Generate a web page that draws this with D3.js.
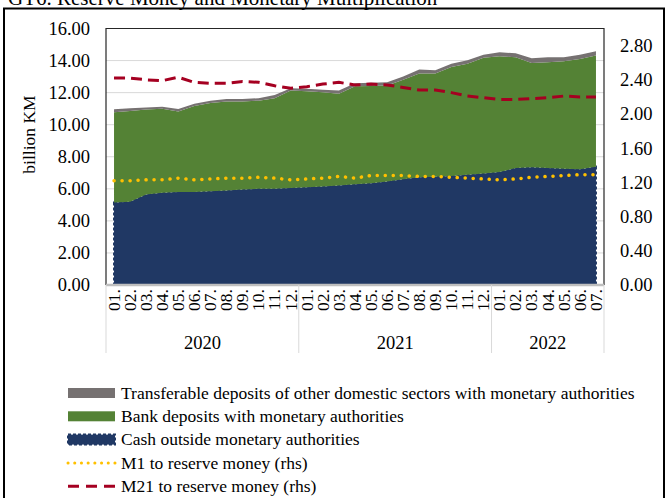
<!DOCTYPE html>
<html>
<head>
<meta charset="utf-8">
<script src="https://cdn.jsdelivr.net/npm/d3@7"></script>
<style>
  body { margin: 0; background: #fff; }
  svg { display: block; font-family: "Liberation Serif", "Times New Roman", serif; }
</style>
</head>
<body>
<svg width="669" height="498"></svg>
<script>
// Data (billion KM, rhs ratios)
var years = ["2020", "2021", "2022"];
var monthsPerYear = [12, 12, 7];
var monthLabels = ["01.","02.","03.","04.","05.","06.","07.","08.","09.","10.","11.","12.",
                   "01.","02.","03.","04.","05.","06.","07.","08.","09.","10.","11.","12.",
                   "01.","02.","03.","04.","05.","06.","07."];

var cash = [5.15, 5.20, 5.65, 5.75, 5.80, 5.80, 5.85, 5.90, 5.95, 6.00, 6.00, 6.05,
            6.10, 6.15, 6.20, 6.28, 6.35, 6.45, 6.60, 6.72, 6.75, 6.80, 6.88, 6.95,
            7.05, 7.30, 7.35, 7.30, 7.25, 7.22, 7.38];
var bankDeposits = [5.63, 5.65, 5.30, 5.25, 5.03, 5.36, 5.50, 5.55, 5.50, 5.50, 5.65, 6.08,
                    5.99, 5.88, 5.73, 6.12, 6.07, 6.00, 6.20, 6.48, 6.45, 6.80, 6.92, 7.22,
                    7.22, 6.90, 6.50, 6.60, 6.70, 6.88, 6.93];
var transferable = [0.18, 0.18, 0.12, 0.12, 0.15, 0.15, 0.15, 0.15, 0.15, 0.15, 0.20, 0.15,
                    0.15, 0.15, 0.20, 0.18, 0.20, 0.20, 0.20, 0.24, 0.20, 0.20, 0.22, 0.20,
                    0.25, 0.25, 0.30, 0.30, 0.25, 0.26, 0.27];
var m1Ratio = [1.22, 1.22, 1.23, 1.23, 1.25, 1.23, 1.24, 1.25, 1.25, 1.26, 1.25, 1.23,
               1.24, 1.25, 1.27, 1.25, 1.28, 1.28, 1.28, 1.27, 1.27, 1.26, 1.25, 1.24,
               1.23, 1.24, 1.26, 1.27, 1.28, 1.29, 1.29];
var m21Ratio = [2.42, 2.42, 2.40, 2.39, 2.43, 2.37, 2.36, 2.36, 2.38, 2.37, 2.33, 2.30,
                2.32, 2.35, 2.37, 2.34, 2.35, 2.34, 2.31, 2.28, 2.28, 2.25, 2.21, 2.19,
                2.17, 2.17, 2.18, 2.19, 2.21, 2.20, 2.20];
var leftTicks = [0, 2, 4, 6, 8, 10, 12, 14, 16];
var rightTicks = [0, 0.4, 0.8, 1.2, 1.6, 2.0, 2.4, 2.8];

var svg = d3.select("svg");

var plotLeft = 106, plotRight = 604, plotTop = 28.5, plotBottom = 285;

var rows = monthLabels.map(function(m, i) {
  return { i: i, cash: cash[i], bank: bankDeposits[i], transf: transferable[i] };
});

var x = d3.scalePoint()
  .domain(d3.range(monthLabels.length))
  .range([plotLeft, plotRight])
  .padding(0.5);
var y = d3.scaleLinear().domain([0, 16]).range([plotBottom, plotTop]);
var y2 = d3.scaleLinear().domain([0, 3]).range([plotBottom, plotTop]);

// outer frame + title (cut off at the top like the source)
svg.append("rect")
  .attr("x", 4).attr("y", 8.5)
  .attr("width", 660).attr("height", 520)
  .attr("fill", "none").attr("stroke", "#000").attr("stroke-width", 2);

svg.append("text")
  .attr("x", 8).attr("y", 5)
  .attr("font-size", 21)
  .text("GT6. Reserve Money and Monetary Multiplication");

// gridlines
svg.append("g")
  .selectAll("line")
  .data(leftTicks.slice(1))
  .enter().append("line")
    .attr("x1", plotLeft).attr("x2", plotRight)
    .attr("y1", function(d) { return y(d); })
    .attr("y2", function(d) { return y(d); })
    .attr("stroke", "#d9d9d9");

// stacked areas
var stack = d3.stack().keys(["cash", "bank", "transf"]);
var series = stack(rows);
var colors = { cash: "#203864", bank: "#548235", transf: "#767171" };

var area = d3.area()
  .x(function(d) { return x(d.data.i); })
  .y0(function(d) { return y(d[0]); })
  .y1(function(d) { return y(d[1]); });

svg.append("g")
  .selectAll("path")
  .data(series)
  .enter().append("path")
    .attr("d", area)
    .attr("fill", function(d) { return colors[d.key]; })
    .attr("stroke", function(d) { return d.key == "cash" ? "#203864" : "none"; })
    .attr("stroke-width", 2)
    .attr("stroke-dasharray", "3,2");

// rhs lines
var line = d3.line()
  .x(function(d, i) { return x(i); })
  .y(function(d) { return y2(d); });

svg.append("path")
  .attr("d", line(m1Ratio))
  .attr("fill", "none")
  .attr("stroke", "#ffc000")
  .attr("stroke-width", 3.5)
  .attr("stroke-linecap", "round")
  .attr("stroke-dasharray", "0.1,7.9");

svg.append("path")
  .attr("d", line(m21Ratio))
  .attr("fill", "none")
  .attr("stroke", "#a50021")
  .attr("stroke-width", 3)
  .attr("stroke-dasharray", "11,6");

// plot border and bottom axis line
svg.append("path")
  .attr("d", "M" + plotLeft + "," + plotBottom + "V" + plotTop + "H" + plotRight + "V" + plotBottom)
  .attr("fill", "none").attr("stroke", "#262626").attr("stroke-width", 1.2);

svg.append("line")
  .attr("x1", plotLeft).attr("x2", plotRight)
  .attr("y1", plotBottom).attr("y2", plotBottom)
  .attr("stroke", "#bfbfbf").attr("stroke-width", 2.5);

// left axis labels
svg.append("g")
  .selectAll("text")
  .data(leftTicks)
  .enter().append("text")
    .attr("x", 90)
    .attr("y", function(d) { return y(d); })
    .attr("dy", "0.35em")
    .attr("text-anchor", "end")
    .attr("font-size", 18.5)
    .text(function(d) { return d3.format(".2f")(d); });

// right axis labels
svg.append("g")
  .selectAll("text")
  .data(rightTicks)
  .enter().append("text")
    .attr("x", 620)
    .attr("y", function(d) { return y2(d); })
    .attr("dy", "0.35em")
    .attr("font-size", 18.5)
    .text(function(d) { return d3.format(".2f")(d); });

svg.append("text")
  .attr("transform", "translate(35,134.5) rotate(-90)")
  .attr("text-anchor", "middle")
  .attr("font-size", 17.5)
  .text("billion KM");

// month labels
svg.append("g")
  .selectAll("text")
  .data(monthLabels)
  .enter().append("text")
    .attr("transform", function(d, i) { return "translate(" + x(i) + ",289) rotate(-90)"; })
    .attr("text-anchor", "end")
    .attr("dy", "0.33em")
    .attr("font-size", 17.5)
    .text(function(d) { return d; });

// year groups
var step = x.step();
var starts = [0];
monthsPerYear.forEach(function(n, k) { starts.push(starts[k] + n); });
var bounds = starts.map(function(s) { return x(0) - step / 2 + s * step; });

svg.append("g")
  .selectAll("line")
  .data(bounds)
  .enter().append("line")
    .attr("x1", function(d) { return d; })
    .attr("x2", function(d) { return d; })
    .attr("y1", plotBottom).attr("y2", 353)
    .attr("stroke", "#d9d9d9");

svg.append("g")
  .selectAll("text")
  .data(years)
  .enter().append("text")
    .attr("x", function(d, k) { return (bounds[k] + bounds[k + 1]) / 2; })
    .attr("y", 349)
    .attr("text-anchor", "middle")
    .attr("font-size", 18.5)
    .text(function(d) { return d; });

// legend
var legendItems = [
  { name: "Transferable deposits of other domestic sectors with monetary authorities", type: "rect", color: "#767171" },
  { name: "Bank deposits with monetary authorities", type: "rect", color: "#548235" },
  { name: "Cash outside monetary authorities", type: "cash", color: "#203864" },
  { name: "M1 to reserve money (rhs)", type: "dot", color: "#ffc000" },
  { name: "M21 to reserve money (rhs)", type: "dash", color: "#a50021" }
];

var legend = svg.append("g")
  .selectAll("g")
  .data(legendItems)
  .enter().append("g")
    .attr("transform", function(d, i) { return "translate(0," + (393 + i * 23.3) + ")"; });

legend.filter(function(d) { return d.type == "rect" || d.type == "cash"; })
  .append("rect")
    .attr("x", 68).attr("y", -5)
    .attr("width", 47).attr("height", 10)
    .attr("fill", function(d) { return d.color; })
    .attr("stroke", function(d) { return d.type == "cash" ? "#203864" : "none"; })
    .attr("stroke-width", 2)
    .attr("stroke-dasharray", "3,2");

legend.filter(function(d) { return d.type == "dot"; })
  .append("line")
    .attr("x1", 68).attr("x2", 115)
    .attr("stroke", function(d) { return d.color; })
    .attr("stroke-width", 3)
    .attr("stroke-linecap", "round")
    .attr("stroke-dasharray", "0.1,6.6");

legend.filter(function(d) { return d.type == "dash"; })
  .append("line")
    .attr("x1", 68).attr("x2", 115)
    .attr("stroke", function(d) { return d.color; })
    .attr("stroke-width", 3)
    .attr("stroke-dasharray", "11,7");

legend.append("text")
  .attr("x", 121)
  .attr("dy", "0.33em")
  .attr("font-size", 17.5)
  .text(function(d) { return d.name; });
</script>
</body>
</html>
